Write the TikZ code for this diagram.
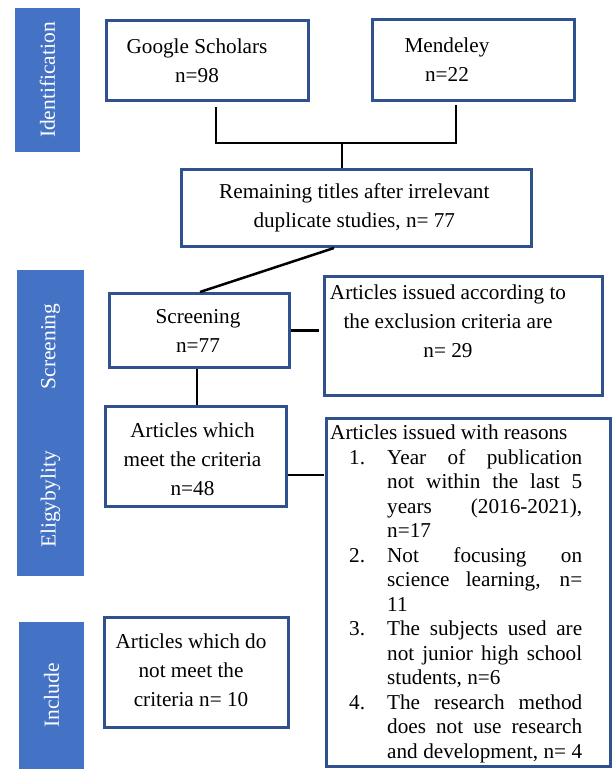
\documentclass[tikz,border=0pt]{standalone}
\usepackage{fontspec}
\setmainfont{Liberation Serif}

\definecolor{barblue}{HTML}{4472C4}
\definecolor{edgeblue}{HTML}{2F528F}

\newcommand{\jl}[1]{\makebox[195pt][s]{#1}}
\newcommand{\rsn}[1]{\hspace*{19pt}\makebox[38pt][l]{#1}}
\newcommand{\rcont}{\hspace*{57pt}}

\tikzset{
  box/.style={draw=edgeblue, line width=3pt, inner sep=0pt},
  side/.style={fill=barblue, text=white, rotate=90, inner sep=0pt,
    font=\fontsize{21.5}{26}\selectfont},
  txt/.style={align=center, inner sep=0pt, font=\fontsize{21.2}{29}\selectfont},
  link/.style={line width=2.5pt}
}

\begin{document}
\begin{tikzpicture}[x=1pt, y=-1pt]
  \useasboundingbox (0,0) rectangle (616,769);

  % phase bars
  \node[side, minimum width=144pt, minimum height=65pt] (idf) at (47.5,80) {Identification};
  \node[side, minimum width=153pt, minimum height=67pt] (scrbar) at (50.5,346.5) {Screening};
  \node[side, minimum width=153pt, minimum height=67pt] (elig) at (50.5,499.5) {Eligybylity};
  \node[side, minimum width=147pt, minimum height=65pt] (incbar) at (51.5,695.5) {Include};

  % boxes
  \node[box, minimum width=202pt, minimum height=80pt] (gs) at (207.5,60.5) {};
  \node[txt] at ([xshift=-10.5pt]gs.center) {Google Scholars\\n=98};
  \node[box, minimum width=202pt, minimum height=81pt] (mend) at (473,60) {};
  \node[txt] at ([xshift=-26pt]mend.center) {Mendeley\\n=22};
  \node[box, minimum width=350pt, minimum height=77pt] (rem) at (356.3,208) {};
  \node[txt] at ([xshift=-2pt]rem.center) {Remaining titles after irrelevant\\duplicate studies, n= 77};
  \node[box, minimum width=180pt, minimum height=74pt] (scr) at (199.5,330.5) {};
  \node[txt] at ([xshift=-1.5pt]scr.center) {Screening\\n=77};
  \node[box, minimum width=278pt, minimum height=119pt] (excl) at (463.7,336) {};
  \node[txt] at ([xshift=-15.7pt,yshift=14.5pt]excl.center) {Articles issued according to\\the exclusion criteria are\\n= 29};
  \node[box, minimum width=181pt, minimum height=100pt] (meet) at (196,456.5) {};
  \node[txt] at ([xshift=-3.5pt,yshift=-2.5pt]meet.center) {Articles which\\meet the criteria\\n=48};
  \node[box, minimum width=284pt, minimum height=348pt] (reas) at (468.5,592.5) {};
  \node[anchor=north west, align=left, inner sep=0pt,
    font=\fontsize{21.2}{24.5}\selectfont] (rlist) at (330,425) {Articles issued with reasons\\
    \rsn{1.}\jl{Year of publication}\\
    \rcont\jl{not within the last 5}\\
    \rcont\jl{years (2016-2021),}\\
    \rcont n=17\\
    \rsn{2.}\jl{Not focusing on}\\
    \rcont\jl{science learning, n=}\\
    \rcont 11\\
    \rsn{3.}\jl{The subjects used are}\\
    \rcont\jl{not junior high school}\\
    \rcont students, n=6\\
    \rsn{4.}\jl{The research method}\\
    \rcont\jl{does not use research}\\
    \rcont\jl{and development, n= 4}};
  \node[box, minimum width=184pt, minimum height=110pt] (inc) at (196.5,672.5) {};
  \node[txt] at ([xshift=-5.5pt,yshift=2.5pt]inc.center) {Articles which do\\not meet the\\criteria n= 10};

  % connectors
  \coordinate (jn) at (342,143);
  \draw[link] ([xshift=8.5pt,yshift=-5pt]gs.south) |- (jn) -| ([xshift=-17pt,yshift=-3pt]mend.south);
  \draw[link] (jn) -- (jn |- rem.north);
  \draw[link] ([xshift=-22.3pt]rem.south) -- ([xshift=0.5pt]scr.north);
  \draw[link] (scr.east) -- ([xshift=-4pt]excl.west |- scr.east);
  \draw[link] ([xshift=-2.5pt]scr.south) -- ([xshift=-2.5pt]scr.south |- meet.north);
  \draw[link] ([yshift=-18.5pt]meet.east) -- ([xshift=-1pt,yshift=-18.5pt]reas.west |- meet.east);
\end{tikzpicture}
\end{document}
